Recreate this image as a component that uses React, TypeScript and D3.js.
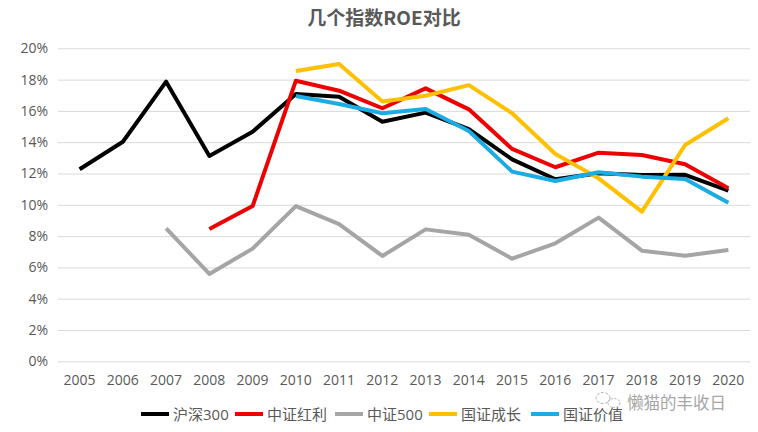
import React, { useEffect, useRef } from 'react';
import * as d3 from 'd3';

const years = ['2005', '2006', '2007', '2008', '2009', '2010', '2011', '2012', '2013', '2014', '2015', '2016', '2017', '2018', '2019', '2020'];
const yTicks = [0, 2, 4, 6, 8, 10, 12, 14, 16, 18, 20];

// null = no data for that year
const hs300 = [12.27, 14.03, 17.87, 13.12, 14.67, 17.08, 16.91, 15.31, 15.89, 14.84, 12.9, 11.63, 12.01, 11.9, 11.92, 10.9];
const zzhl = [null, null, null, 8.45, 9.92, 17.93, 17.29, 16.17, 17.44, 16.1, 13.57, 12.4, 13.33, 13.18, 12.59, 11.05];
const zz500 = [null, null, 8.5, 5.58, 7.2, 9.92, 8.77, 6.73, 8.43, 8.09, 6.56, 7.54, 9.18, 7.07, 6.75, 7.11];
const gzcz = [null, null, null, null, null, 18.55, 19.0, 16.6, 16.97, 17.65, 15.85, 13.25, 11.69, 9.56, 13.82, 15.53];
const gzjz = [null, null, null, null, null, 16.95, 16.44, 15.85, 16.12, 14.72, 12.12, 11.52, 12.08, 11.8, 11.65, 10.13];

const seriesNames = ['沪深300', '中证红利', '中证500', '国证成长', '国证价值'];
const seriesColors = ['#000000', '#ee0000', '#a5a5a5', '#ffc000', '#1aace3'];
const seriesValues = [hs300, zzhl, zz500, gzcz, gzjz];

const title = '几个指数ROE对比';
const watermark = '懒猫的丰收日';

const W = 758;
const H = 432;
const font = '"Segoe UI", "Open Sans", "Noto Sans CJK SC", sans-serif';

const RoeChart: React.FC = () => {
    const ref = useRef<SVGSVGElement | null>(null);

    useEffect(() => {
        if (!ref.current) return;
        const svg = d3.select(ref.current);
        svg.selectAll('*').remove();

        const left = 58, right = 750, top = 48.3, bottom = 361.3;

        const x = d3.scaleBand<string>().domain(years).range([left, right]);
        const y = d3.scaleLinear().domain([0, 20]).range([bottom, top]);
        const cx = (d: string) => (x(d) as number) + x.bandwidth() / 2;

        svg.append('rect').attr('width', W).attr('height', H).attr('fill', '#ffffff');

        // title
        svg.append('text')
            .attr('x', 384).attr('y', 25)
            .attr('text-anchor', 'middle')
            .attr('font-family', '"Noto Sans CJK SC", sans-serif')
            .attr('font-size', 19)
            .attr('font-weight', 'bold')
            .attr('fill', '#595959')
            .text(title);

        // grid + y axis
        const yAxis = svg.append('g')
            .attr('transform', `translate(${left},0)`)
            .call(d3.axisLeft(y).tickValues(yTicks).tickSize(-(right - left)).tickFormat(d => `${d}%`));
        yAxis.select('.domain').remove();
        yAxis.selectAll('line').attr('stroke', '#d9d9d9').attr('stroke-width', 1);
        yAxis.selectAll('text')
            .attr('x', -10)
            .attr('fill', '#595959')
            .attr('font-size', 14)
            .attr('font-family', font);

        // x axis
        const xAxis = svg.append('g')
            .attr('transform', `translate(0,${bottom})`)
            .call(d3.axisBottom(x).tickSize(0));
        xAxis.select('.domain').remove();
        xAxis.selectAll('text')
            .attr('y', 14)
            .attr('fill', '#595959')
            .attr('font-size', 14)
            .attr('font-family', font);

        // lines
        const line = d3.line<number | null>()
            .defined(d => d !== null)
            .x((_, i) => cx(years[i]))
            .y(d => y(d as number));

        seriesValues.forEach((vals, i) => {
            svg.append('path')
                .datum(vals)
                .attr('fill', 'none')
                .attr('stroke', seriesColors[i])
                .attr('stroke-width', 4)
                .attr('stroke-linejoin', 'round')
                .attr('d', line);
        });

        // watermark
        const wm = svg.append('g').attr('fill', 'none').attr('stroke', '#b0b0b0').attr('stroke-width', 1);
        wm.append('ellipse').attr('cx', 603).attr('cy', 398).attr('rx', 7).attr('ry', 5.5).attr('stroke-dasharray', '3,1.5');
        wm.append('ellipse').attr('cx', 614).attr('cy', 403).attr('rx', 6).attr('ry', 4.5).attr('stroke-dasharray', '2,1.5');
        svg.append('text')
            .attr('x', 627).attr('y', 409)
            .attr('font-family', '"Noto Sans CJK SC", sans-serif')
            .attr('font-size', 16.5)
            .attr('fill', '#a6a6a6')
            .text(watermark);

        // legend
        const legendX = [141, 235, 335, 429, 531];
        const legend = svg.append('g');
        seriesNames.forEach((name, i) => {
            legend.append('line')
                .attr('x1', legendX[i]).attr('x2', legendX[i] + 28)
                .attr('y1', 414).attr('y2', 414)
                .attr('stroke', seriesColors[i])
                .attr('stroke-width', 4);
            legend.append('text')
                .attr('x', legendX[i] + 32).attr('y', 419.5)
                .attr('font-family', font)
                .attr('font-size', 15)
                .attr('fill', '#595959')
                .text(name);
        });
    }, []);

    return (
        <svg ref={ref} width={W} height={H} style={{ position: 'absolute', left: 0, top: 0, display: 'block' }} />
    );
};

export default function App() {
    return <RoeChart />;
}
